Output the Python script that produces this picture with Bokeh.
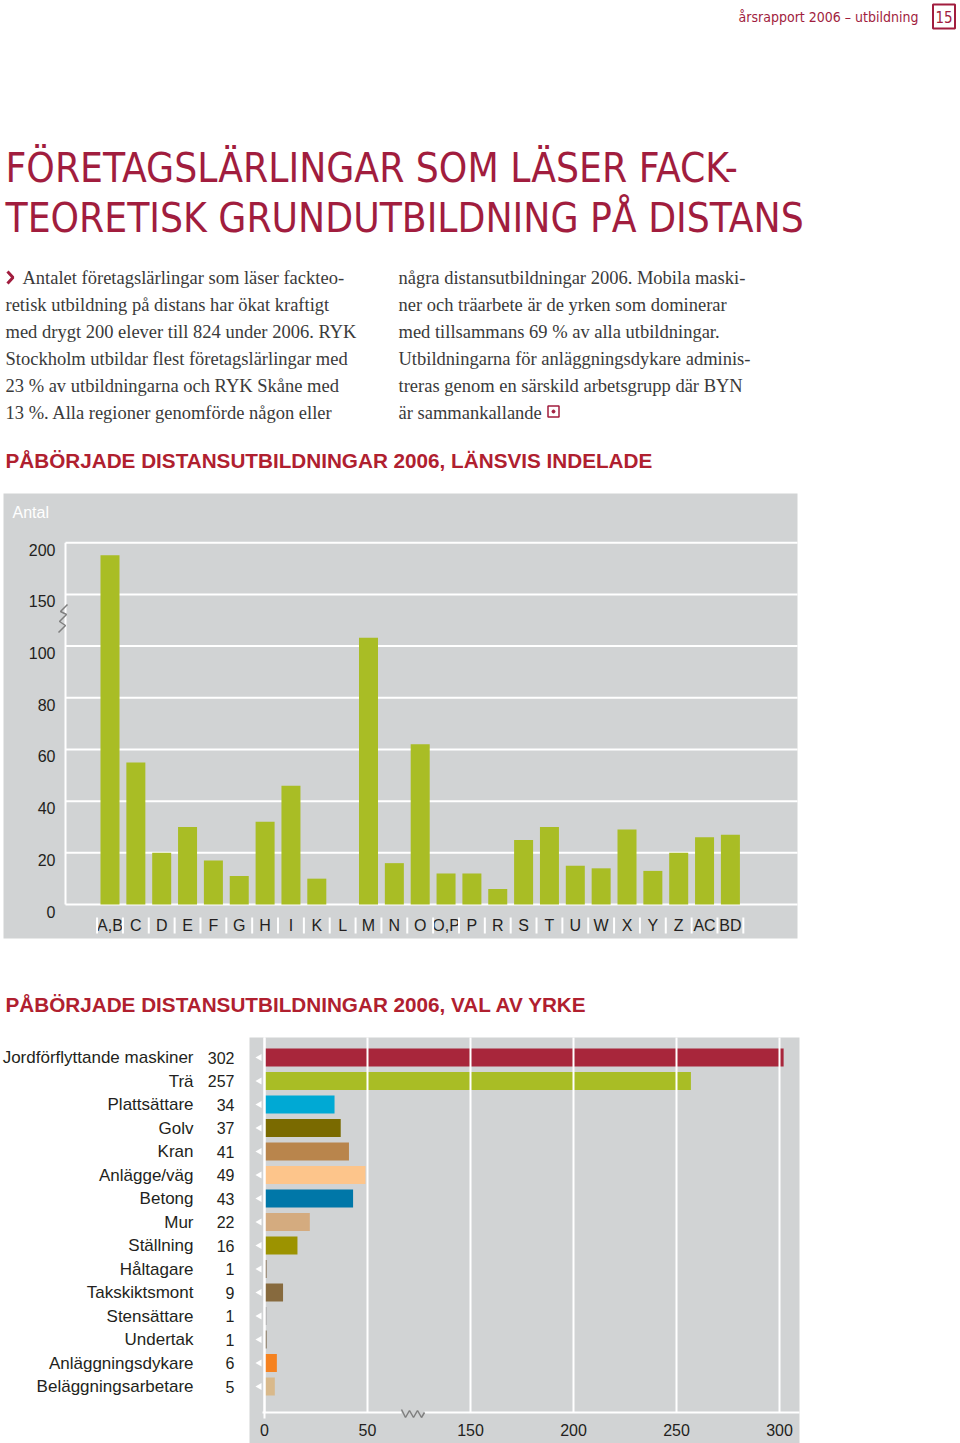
import numpy as np
from bokeh.plotting import figure
from bokeh.layouts import column
from bokeh.models import Range1d
from bokeh.core.properties import value
from bokeh.embed import file_html
from bokeh.resources import INLINE

# ---------------- data ----------------
regions = ["A,B", "C", "D", "E", "F", "G", "H", "I", "K", "L", "M", "N", "O",
           "O,P", "P", "R", "S", "T", "U", "W", "X", "Y", "Z", "AC", "BD"]
region_counts = [188, 55, 20, 30, 17, 11, 32, 46, 10, 0, 108, 16, 62,
                 12, 12, 6, 25, 30, 15, 14, 29, 13, 20, 26, 27]
y_ticks1 = [0, 20, 40, 60, 80, 100, 150, 200]
y_tick_labels1 = ["0", "20", "40", "60", "80", "100", "150", "200"]

occupations = ["Jordförflyttande maskiner", "Trä", "Plattsättare", "Golv", "Kran",
               "Anlägge/väg", "Betong", "Mur", "Ställning", "Håltagare",
               "Takskiktsmont", "Stensättare", "Undertak", "Anläggningsdykare",
               "Beläggningsarbetare"]
occ_counts = [302, 257, 34, 37, 41, 49, 43, 22, 16, 1, 9, 1, 1, 6, 5]
occ_colors = ["#a8263b", "#a9bd25", "#00a9d4", "#7a6a00", "#b9854c", "#fdc58b",
              "#0077a8", "#d4ab7f", "#9c9300", "#7b6240", "#876a3e", "#a6a6a6",
              "#6f5a3a", "#f58220", "#d9b98b"]
x_ticks2 = [0, 50, 150, 200, 250, 300]
x_tick_labels2 = ["0", "50", "150", "200", "250", "300"]

header_text = "årsrapport 2006 – utbildning"
page_no = "15"
title_lines = ["FÖRETAGSLÄRLINGAR SOM LÄSER FACK-",
               "TEORETISK GRUNDUTBILDNING PÅ DISTANS"]
col1_lines = ["Antalet företagslärlingar som läser fackteo-",
              "retisk utbildning på distans har ökat kraftigt",
              "med drygt 200 elever till 824 under 2006. RYK",
              "Stockholm utbildar flest företagslärlingar med",
              "23 % av utbildningarna och RYK Skåne med",
              "13 %. Alla regioner genomförde någon eller"]
col2_lines = ["några distansutbildningar 2006. Mobila maski-",
              "ner och träarbete är de yrken som dominerar",
              "med tillsammans 69 % av alla utbildningar.",
              "Utbildningarna för anläggningsdykare adminis-",
              "treras genom en särskild arbetsgrupp där BYN",
              "är sammankallande"]
heading1 = "PÅBÖRJADE DISTANSUTBILDNINGAR 2006, LÄNSVIS INDELADE"
heading2 = "PÅBÖRJADE DISTANSUTBILDNINGAR 2006, VAL AV YRKE"
axis_title1 = "Antal"

# ---------------- style ----------------
RED = "#a11d3e"
HEAD_RED = "#b0202f"
GRAY = "#d1d3d4"
GREEN = "#a9bd25"
DARK = "#231f20"
BODY = "#3a3a3a"
SANS = value("Liberation Sans")
COND = value("DejaVu Sans Condensed")
SERIF = value("Liberation Serif")
W = 960


def brk1(v):
    # broken axis: linear to 100, then compressed (50 per grid step)
    return v if v <= 100 else 100 + (v - 100) * 0.4


def brk2(v):
    # broken axis: 0..50 linear, gap 50..150 removed
    return v if v <= 50 else v - 50


def base_fig(h, xr, yr):
    p = figure(width=W, height=h, x_range=xr, y_range=yr,
               output_backend="svg", toolbar_location=None, min_border=0,
               x_axis_location=None, y_axis_location=None,
               outline_line_color=None)
    p.xgrid.visible = False
    p.ygrid.visible = False
    p.background_fill_color = "white"
    p.border_fill_color = "white"
    return p


# ---------------- top text block (page coordinates) ----------------
pa = base_fig(485, Range1d(0, W), Range1d(485, 0))
pa.text(x=[918], y=[16], text=[header_text], text_font=COND, text_font_size="14px",
        text_color=RED, text_align="right", text_baseline="middle")
pa.rect(x=[943.5], y=[16], width=[22], height=[24], fill_color=None,
        line_color=RED, line_width=2)
pa.text(x=[943.5], y=[16.5], text=[page_no], text_font=COND, text_font_size="15px",
        text_color=RED, text_align="center", text_baseline="middle")
pa.text(x=[5, 5], y=[168, 218], text=title_lines, text_font=COND,
        text_font_size="40.3px", text_color=RED, text_align="left",
        text_baseline="middle")
pa.line(x=[7, 12.5, 7], y=[271, 277, 283], line_color=RED, line_width=3)
line_ys = [277, 304, 331, 358, 385, 412]
pa.text(x=[22, 5, 5, 5, 5, 5], y=line_ys, text=col1_lines, text_font=SERIF,
        text_font_size="18.5px", text_color=BODY, text_align="left",
        text_baseline="middle")
pa.text(x=[398] * 6, y=line_ys, text=col2_lines, text_font=SERIF,
        text_font_size="18.5px", text_color=BODY, text_align="left",
        text_baseline="middle")
pa.rect(x=[553], y=[411], width=[11], height=[11], fill_color=None,
        line_color=RED, line_width=1.5)
pa.scatter(x=[553], y=[411], size=3, color=RED)
pa.text(x=[5], y=[460], text=[heading1], text_font=SANS, text_font_style="bold",
        text_font_size="20.7px", text_color=HEAD_RED, text_align="left",
        text_baseline="middle")


# ---------------- chart 1: regions ----------------
def cx1(px):
    return (px - 109.5) / 25.85


def cy1(py):
    return (904 - py) / 2.584


pb = base_fig(465, Range1d(cx1(0), cx1(W)), Range1d(cy1(950), cy1(485)))
pb.quad(left=[cx1(3)], right=[cx1(797)], bottom=[cy1(938)], top=[cy1(493)],
        fill_color=GRAY, line_color=None)
pb.text(x=[cx1(12)], y=[cy1(512)], text=[axis_title1], text_font=SANS,
        text_font_size="16px", text_color="white", text_align="left",
        text_baseline="middle")
disp_ticks1 = [brk1(t) for t in y_ticks1]
pb.segment(x0=[cx1(65)] * len(disp_ticks1), x1=[cx1(797)] * len(disp_ticks1),
           y0=disp_ticks1, y1=disp_ticks1, line_color="white", line_width=2)
pb.segment(x0=[cx1(65)], x1=[cx1(65)], y0=[0], y1=[brk1(200)],
           line_color="white", line_width=2)
zz1x = [58, 65, 59, 66, 60, 67]
zz1y = [632, 625, 621, 614, 611, 604]
pb.line(x=[cx1(v) for v in zz1x], y=[cy1(v) for v in zz1y],
        line_color="#7f7f7f", line_width=1.5)
pb.text(x=[cx1(55)] * len(disp_ticks1), y=disp_ticks1, text=y_tick_labels1,
        text_font=SANS, text_font_size="16px", text_color=DARK,
        text_align="right", text_baseline="middle", y_offset=7)
idx1 = np.arange(len(regions))
pb.vbar(x=idx1, top=[brk1(v) for v in region_counts], bottom=0, width=0.735,
        fill_color=GREEN, line_color=None)
pb.text(x=idx1, y=[cy1(925)] * len(regions), text=regions, text_font=SANS,
        text_font_size="16px", text_color=DARK, text_align="center",
        text_baseline="middle")
pb.rect(x=np.arange(len(regions) + 1) - 0.5, y=[cy1(925)] * (len(regions) + 1),
        width=2, height=16, width_units="screen", height_units="screen",
        fill_color="white", line_color=None)


# ---------------- chart 2: occupations ----------------
def cx2(px):
    return (px - 264) / 2.06


def cy2(py):
    return (py - 1057) / 23.5


pc = base_fig(493, Range1d(cx2(0), cx2(W)), Range1d(cy2(1443), cy2(950)))
pc.text(x=[cx2(5)], y=[cy2(1004)], text=[heading2], text_font=SANS,
        text_font_style="bold", text_font_size="20.7px", text_color=HEAD_RED,
        text_align="left", text_baseline="middle")
pc.quad(left=[cx2(249)], right=[cx2(799)], top=[cy2(1037)], bottom=[cy2(1450)],
        fill_color=GRAY, line_color=None)
idx2 = np.arange(len(occupations))
pc.hbar(y=idx2, left=0, right=[brk2(v) for v in occ_counts], height=0.766,
        fill_color=occ_colors, line_color=None)
disp_ticks2 = [brk2(t) for t in x_ticks2]
pc.segment(x0=disp_ticks2, x1=disp_ticks2, y0=[cy2(1037)] * len(disp_ticks2),
           y1=[cy2(1412)] * len(disp_ticks2), line_color="white", line_width=2)
pc.segment(x0=[0], x1=[0], y0=[cy2(1037)], y1=[cy2(1418)], line_color="white",
           line_width=2)
pc.segment(x0=[cx2(262), cx2(424)], x1=[cx2(401), cx2(799)],
           y0=[cy2(1412)] * 2, y1=[cy2(1412)] * 2, line_color="white",
           line_width=2)
zz2x = [401, 405, 409, 413, 417, 421, 424]
zz2y = [1409, 1417, 1410, 1417, 1410, 1417, 1412]
pc.line(x=[cx2(v) for v in zz2x], y=[cy2(v) for v in zz2y],
        line_color="#7f7f7f", line_width=1.5)
pc.scatter(x=[cx2(259)] * len(occupations), y=idx2, marker="triangle", size=7,
           angle=np.pi / 2, fill_color="white", line_color=None)
pc.text(x=[cx2(193)] * len(occupations), y=idx2, text=occupations,
        text_font=SANS, text_font_size="17px", text_color=DARK,
        text_align="right", text_baseline="middle")
pc.text(x=[cx2(234)] * len(occupations), y=idx2,
        text=[str(c) for c in occ_counts], text_font=SANS,
        text_font_size="16px", text_color=DARK, text_align="right",
        text_baseline="middle")
pc.text(x=disp_ticks2, y=[cy2(1429)] * len(disp_ticks2), text=x_tick_labels2,
        text_font=SANS, text_font_size="16px", text_color=DARK,
        text_align="center", text_baseline="middle")

layout = column(pa, pb, pc, spacing=0)
open("out.html", "w").write(file_html(layout, INLINE))
